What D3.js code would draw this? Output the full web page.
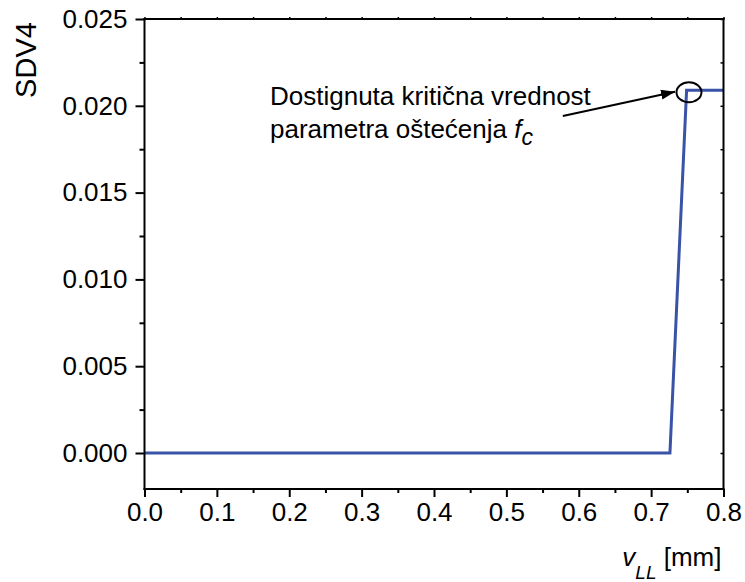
<!DOCTYPE html>
<html>
<head>
<meta charset="utf-8">
<script src="https://cdn.jsdelivr.net/npm/d3@7/dist/d3.min.js"></script>
<style>
  html, body { margin: 0; padding: 0; background: #fff; }
  svg { display: block; font-family: Arial, "Liberation Sans", sans-serif; }
</style>
</head>
<body>
<svg id="chart" width="745" height="582"></svg>
<script>
// Displacement v_LL [mm] and damage variable SDV4
const vLL = [0.0, 0.726, 0.749, 0.8];
const sdv4 = [0.0, 0.0, 0.0209, 0.0209];

const xTicks = [0.0, 0.1, 0.2, 0.3, 0.4, 0.5, 0.6, 0.7, 0.8];
const yTicks = [0.000, 0.005, 0.010, 0.015, 0.020, 0.025];
const xMinor = d3.range(0.05, 0.8, 0.1);
const yMinor = d3.range(0.0025, 0.025, 0.005);

// Critical point marker and its annotation
const critPoint = [0.7523, 0.02078];
const arrowFrom = [0.578, 0.01941];
const arrowTo = [0.733, 0.02081];

const svg = d3.select("#chart");
const plotLeft = 144.5, plotRight = 723.5, plotTop = 19, plotBottom = 489;

const x = d3.scaleLinear().domain([0, 0.8]).range([plotLeft, plotRight]);
const y = d3.scaleLinear().domain([0, 0.025]).range([453, plotTop]);

const fs = 26;
const axisColor = "#000";

// Data line
const line = d3.line().x((d, i) => x(vLL[i])).y((d, i) => y(sdv4[i]));
svg.append("path")
  .datum(vLL)
  .attr("d", line)
  .attr("fill", "none")
  .attr("stroke", "#3953a6")
  .attr("stroke-width", 3)
  .attr("stroke-linejoin", "miter");

// Frame
const frame = svg.append("g").attr("stroke", axisColor).attr("stroke-width", 2).attr("fill", "none").attr("stroke-linecap", "square");
frame.append("line").attr("x1", plotLeft).attr("x2", plotRight).attr("y1", plotBottom).attr("y2", plotBottom);
frame.append("line").attr("x1", plotLeft).attr("x2", plotRight).attr("y1", plotTop).attr("y2", plotTop);
frame.append("line").attr("x1", plotLeft).attr("x2", plotLeft).attr("y1", plotTop).attr("y2", plotBottom);
frame.append("line").attr("x1", plotRight).attr("x2", plotRight).attr("y1", plotTop).attr("y2", plotBottom);

function styleTicks(g, w) {
  g.select(".domain").remove();
  g.selectAll(".tick line").attr("stroke", axisColor).attr("stroke-width", w);
  g.selectAll(".tick text").attr("font-size", fs).attr("fill", "#000")
    .attr("font-family", "Arial, 'Liberation Sans', sans-serif");
}

// Bottom axis
styleTicks(svg.append("g").attr("transform", `translate(0,${plotBottom})`)
  .call(d3.axisBottom(x).tickValues(xTicks).tickFormat(d3.format(".1f")).tickSize(8).tickPadding(6)), 2);
styleTicks(svg.append("g").attr("transform", `translate(0,${plotBottom})`)
  .call(d3.axisBottom(x).tickValues(xMinor).tickSize(4).tickFormat("")), 2);

// Left axis
styleTicks(svg.append("g").attr("transform", `translate(${plotLeft},0)`)
  .call(d3.axisLeft(y).tickValues(yTicks).tickFormat(d3.format(".3f")).tickSize(9).tickPadding(8)), 2);
styleTicks(svg.append("g").attr("transform", `translate(${plotLeft},0)`)
  .call(d3.axisLeft(y).tickValues(yMinor).tickSize(5).tickFormat("")), 2);

// Top and right axes: small ticks without labels
styleTicks(svg.append("g").attr("transform", `translate(0,${plotTop})`)
  .call(d3.axisTop(x).tickValues(xTicks.concat(xMinor)).tickSize(2).tickFormat("")), 1.5);
styleTicks(svg.append("g").attr("transform", `translate(${plotRight},0)`)
  .call(d3.axisLeft(y).tickValues(yTicks.concat(yMinor)).tickSize(3).tickFormat("")), 1.5);

// Axis titles
svg.append("text")
  .attr("transform", "translate(36,60) rotate(-90)")
  .attr("text-anchor", "middle")
  .attr("font-size", 29)
  .attr("fill", "#000")
  .text("SDV4");

const xt = svg.append("text")
  .attr("x", plotRight - 2)
  .attr("y", 566)
  .attr("text-anchor", "end")
  .attr("font-size", fs)
  .attr("fill", "#000");
xt.append("tspan").attr("font-style", "italic").text("v");
xt.append("tspan").attr("font-style", "italic").attr("font-size", 19).attr("dy", 13).text("LL");
xt.append("tspan").attr("dy", -13).text(" [mm]");

// Annotation
const ann = svg.append("g").attr("font-size", fs).attr("fill", "#000");
ann.append("text").attr("x", 270).attr("y", 105).text("Dostignuta kritična vrednost");
const l2 = ann.append("text").attr("x", 270).attr("y", 138);
l2.append("tspan").text("parametra oštećenja ");
l2.append("tspan").attr("font-style", "italic").text("f");
l2.append("tspan").attr("font-style", "italic").attr("font-size", 23).attr("dy", 7).text("c");

svg.append("defs").append("marker")
  .attr("id", "head")
  .attr("viewBox", "0 0 14 10")
  .attr("refX", 14).attr("refY", 5)
  .attr("markerWidth", 14).attr("markerHeight", 10)
  .attr("markerUnits", "userSpaceOnUse")
  .attr("orient", "auto")
  .append("path").attr("d", "M0,0 L14,5 L0,10 Z").attr("fill", "#000");

svg.append("line")
  .attr("x1", x(arrowFrom[0])).attr("y1", y(arrowFrom[1]))
  .attr("x2", x(arrowTo[0])).attr("y2", y(arrowTo[1]))
  .attr("stroke", "#000").attr("stroke-width", 2)
  .attr("marker-end", "url(#head)");

svg.append("ellipse")
  .attr("cx", x(critPoint[0])).attr("cy", y(critPoint[1]))
  .attr("rx", 12.5).attr("ry", 10)
  .attr("fill", "none").attr("stroke", "#000").attr("stroke-width", 2);
</script>
</body>
</html>
